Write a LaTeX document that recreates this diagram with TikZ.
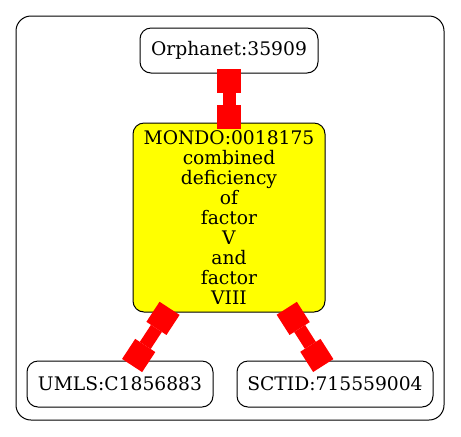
\documentclass[tikz,border=0pt]{standalone}
\usepackage{fontspec}
\setmainfont{DejaVu Serif}
\usepackage{tikz}
\usetikzlibrary{arrows.meta,positioning}
\definecolor{mondoyellow}{HTML}{FFFF00}
\definecolor{linkred}{HTML}{FF0000}
\tikzset{
  idbox/.style={draw=black, rounded corners=5.5pt, line width=0.5pt, fill=white,
    align=center, inner sep=0pt, font=\fontsize{9.35}{10}\selectfont},
  diseasebox/.style={idbox, fill=mondoyellow},
  xreflink/.style={{Square[length=12pt,width=12pt,line width=0pt]}-{Square[length=12pt,width=12pt,line width=0pt]},
    line width=6.5pt, draw=linkred, shorten <=-2.5pt, shorten >=-3pt},
  groupframe/.style={draw=black, rounded corners=7.5pt, line width=0.5pt}
}
\begin{document}
\begin{tikzpicture}[x=0.5pt, y=-0.5pt, node distance=24.5pt]
    \useasboundingbox (0,0) rectangle (461,436);
    \draw[groupframe] (16,16) rectangle (444,420);

    \node[diseasebox, minimum width=96pt, minimum height=94.5pt] (mondo) at (229,217.5)
      {MONDO:0018175\\combined\\deficiency\\of\\factor\\V\\and\\factor\\VIII};
    \node[idbox, above=of mondo, minimum width=89pt, minimum height=22.5pt] (orpha) {Orphanet:35909};
    \node[idbox, minimum width=93pt, minimum height=23pt] (umls) at (120,384) {UMLS:C1856883};
    \node[idbox, minimum width=98pt, minimum height=23pt] (sctid) at (335,384) {SCTID:715559004};

    \draw[xreflink] (orpha) -- (mondo);
    \draw[xreflink] (mondo) -- (umls);
    \draw[xreflink] (mondo) -- (sctid);
\end{tikzpicture}
\end{document}
